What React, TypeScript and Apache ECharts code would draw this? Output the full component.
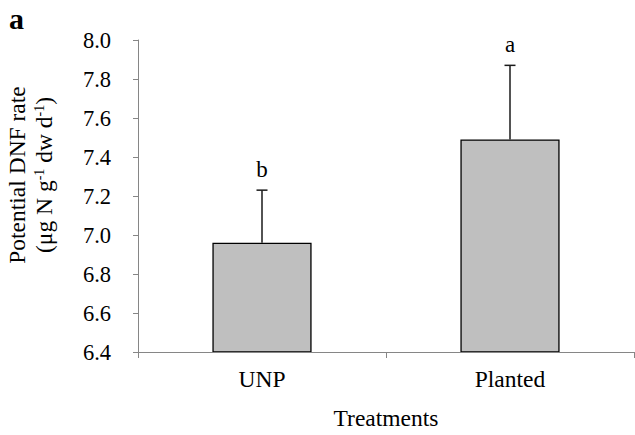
import React, { useEffect, useRef } from "react";
import * as echarts from "echarts";

const categories = ["UNP", "Planted"];
const means = [6.96, 7.49];
const upper = [7.23, 7.87];
const letters = ["b", "a"];
const yTicks = { min: 6.4, max: 8.0, interval: 0.2 };

const FONT = "'Liberation Serif', 'Times New Roman', serif";

export default function App() {
  const ref = useRef<HTMLDivElement>(null);
  useEffect(() => {
    if (!ref.current) return;
    const chart = echarts.init(ref.current, undefined, { renderer: "svg" });
    const errData = categories.map((c, i) => [i, means[i], upper[i], letters[i]]);
    chart.setOption({
      animation: false,
      backgroundColor: "#fff",
      grid: { left: 138, right: 1, top: 40, bottom: 82 },
      xAxis: {
        type: "category",
        data: categories,
        z: 5,
        axisLine: { lineStyle: { color: "#868686", width: 1.2 } },
        axisTick: { show: true, length: 6, lineStyle: { color: "#868686" } },
        axisLabel: { color: "#000", fontSize: 23.5, fontFamily: FONT, margin: 15 },
        name: "Treatments",
        nameLocation: "middle",
        nameGap: 54,
        nameTextStyle: { color: "#000", fontSize: 23.5, fontFamily: FONT },
      },
      yAxis: {
        type: "value",
        min: yTicks.min,
        max: yTicks.max,
        interval: yTicks.interval,
        splitLine: { show: false },
        axisLine: { show: true, lineStyle: { color: "#868686", width: 1 } },
        axisTick: { show: true, length: 5, lineStyle: { color: "#868686" } },
        axisLabel: {
          color: "#000",
          fontSize: 22.5,
          fontFamily: FONT,
          margin: 27,
          formatter: (v: number) => v.toFixed(1),
        },
      },
      series: [
        {
          type: "bar",
          data: means,
          barWidth: "40%",
          itemStyle: { color: "#bfbfbf", borderColor: "#000", borderWidth: 1.3 },
        },
        {
          type: "custom",
          data: errData,
          z: 5,
          renderItem: (params: any, api: any) => {
            const i = api.value(0);
            const lo = api.coord([i, api.value(1)]);
            const hi = api.coord([i, api.value(2)]);
            const letter = letters[params.dataIndex];
            const cap = 5.5;
            return {
              type: "group",
              children: [
                {
                  type: "line",
                  shape: { x1: lo[0], y1: lo[1], x2: hi[0], y2: hi[1] },
                  style: { stroke: "#1a1a1a", lineWidth: 1.5 },
                },
                {
                  type: "line",
                  shape: { x1: hi[0] - cap, y1: hi[1], x2: hi[0] + cap, y2: hi[1] },
                  style: { stroke: "#1a1a1a", lineWidth: 1.5 },
                },
                {
                  type: "text",
                  style: {
                    text: letter,
                    x: hi[0],
                    y: hi[1] - 9,
                    textAlign: "center",
                    textVerticalAlign: "bottom",
                    font: `23px ${FONT}`,
                    fill: "#000",
                  },
                },
              ],
            };
          },
        },
      ],
      graphic: [
        {
          type: "text",
          left: 9,
          top: 3,
          style: { text: "a", font: `bold 30px ${FONT}`, fill: "#000" },
        },
        {
          type: "text",
          x: 17,
          y: 175,
          rotation: Math.PI / 2,
          style: {
            text: "Potential DNF rate",
            font: `23.5px ${FONT}`,
            fill: "#000",
            textAlign: "center",
            textVerticalAlign: "middle",
          },
        },
        {
          type: "text",
          x: 44,
          y: 175,
          rotation: Math.PI / 2,
          style: {
            text: "(μg N g{sup|-1} dw d{sup|-1})",
            font: `23.5px ${FONT}`,
            fill: "#000",
            textAlign: "center",
            textVerticalAlign: "middle",
            rich: {
              sup: { fontSize: 14, fontFamily: FONT, verticalAlign: "top", padding: [0, 0, 9, 0] },
            },
          },
        },
      ],
    });
    return () => chart.dispose();
  }, []);
  return (
    <div
      ref={ref}
      style={{ position: "fixed", left: 0, top: 0, width: 635, height: 435, background: "#fff" }}
    />
  );
}
